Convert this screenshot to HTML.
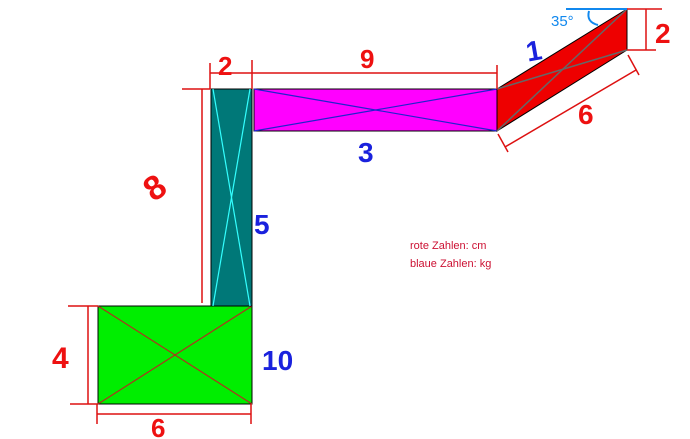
<!DOCTYPE html>
<html><head><meta charset="utf-8"><style>
html,body{margin:0;padding:0;background:#fff;}
svg{display:block;}
.r{fill:#ee1111;font-family:"Liberation Sans",sans-serif;font-weight:bold;}
.b{fill:#1a22dd;font-family:"Liberation Sans",sans-serif;font-weight:bold;}
</style></head><body>
<svg width="690" height="439" viewBox="0 0 690 439" xmlns="http://www.w3.org/2000/svg">
<rect x="98" y="306" width="154" height="98" fill="#00ee00" stroke="#000" stroke-width="1"/>
<line x1="98" y1="306" x2="252" y2="404" stroke="#b03020" stroke-width="1.2"/>
<line x1="98" y1="404" x2="252" y2="306" stroke="#b03020" stroke-width="1.2"/>
<rect x="211" y="89" width="41" height="217" fill="#007878" stroke="#000" stroke-width="1"/>
<line x1="213" y1="89" x2="250" y2="306" stroke="#33ffff" stroke-width="1.2"/>
<line x1="250" y1="89" x2="213" y2="306" stroke="#33ffff" stroke-width="1.2"/>
<rect x="254" y="89" width="243" height="42" fill="#ff00ff" stroke="#000" stroke-width="1"/>
<line x1="254" y1="89" x2="497" y2="131" stroke="#2222cc" stroke-width="1.2"/>
<line x1="254" y1="131" x2="497" y2="89" stroke="#2222cc" stroke-width="1.2"/>
<polygon points="497,89 627,9 627,50 497,131" fill="#ee0000" stroke="#000" stroke-width="1"/>
<line x1="497" y1="89" x2="627" y2="50" stroke="#666" stroke-width="1.5"/>
<line x1="497" y1="131" x2="627" y2="9" stroke="#666" stroke-width="1.5"/>
<g stroke="#dd1111" stroke-width="1.5" fill="none">
<line x1="210" y1="73" x2="497" y2="73"/>
<line x1="210" y1="63" x2="210" y2="89"/>
<line x1="252" y1="60" x2="252" y2="89"/>
<line x1="497" y1="65" x2="497" y2="89"/>
<line x1="202" y1="89" x2="202" y2="303"/>
<line x1="182" y1="89" x2="210" y2="89"/>
<line x1="88" y1="306" x2="88" y2="404"/>
<line x1="68" y1="306" x2="98" y2="306"/>
<line x1="70" y1="404" x2="98" y2="404"/>
<line x1="97" y1="414" x2="251" y2="414"/>
<line x1="97" y1="404" x2="97" y2="424"/>
<line x1="251" y1="404" x2="251" y2="424"/>
<line x1="627" y1="9" x2="662" y2="9"/>
<line x1="627" y1="50" x2="656" y2="50"/>
<line x1="646" y1="9" x2="646" y2="50"/>
<line x1="505" y1="147" x2="636" y2="70"/>
<line x1="498" y1="134" x2="508" y2="152"/>
<line x1="628" y1="55" x2="639" y2="75"/>
</g>
<g stroke="#1188ee" stroke-width="2" fill="none">
<line x1="566" y1="9" x2="627" y2="9"/>
<path d="M589,11 Q586,22 598,25"/>
</g>
<text x="551" y="26" font-family="Liberation Sans,sans-serif" font-size="15" fill="#1188ee">35°</text>
<text class="r" x="218" y="75" font-size="26">2</text>
<text class="r" x="360" y="68" font-size="26">9</text>
<text class="b" x="358" y="162" font-size="28">3</text>
<text class="b" x="526" y="60" font-size="28" transform="rotate(-10 536 50)">1</text>
<text class="r" x="655" y="43" font-size="28">2</text>
<text class="r" x="578" y="124" font-size="28">6</text>
<text class="r" x="144" y="198" font-size="34" transform="rotate(-35 156 185)">8</text>
<text class="b" x="254" y="234" font-size="28">5</text>
<text class="r" x="52" y="368" font-size="30">4</text>
<text class="b" x="262" y="370" font-size="28">10</text>
<text class="r" x="151" y="437" font-size="26">6</text>
<text x="410" y="249" font-family="Liberation Sans,sans-serif" font-size="11" fill="#cc1133">rote Zahlen: cm</text>
<text x="410" y="267" font-family="Liberation Sans,sans-serif" font-size="11" fill="#cc1133">blaue Zahlen: kg</text>
</svg>
</body></html>
